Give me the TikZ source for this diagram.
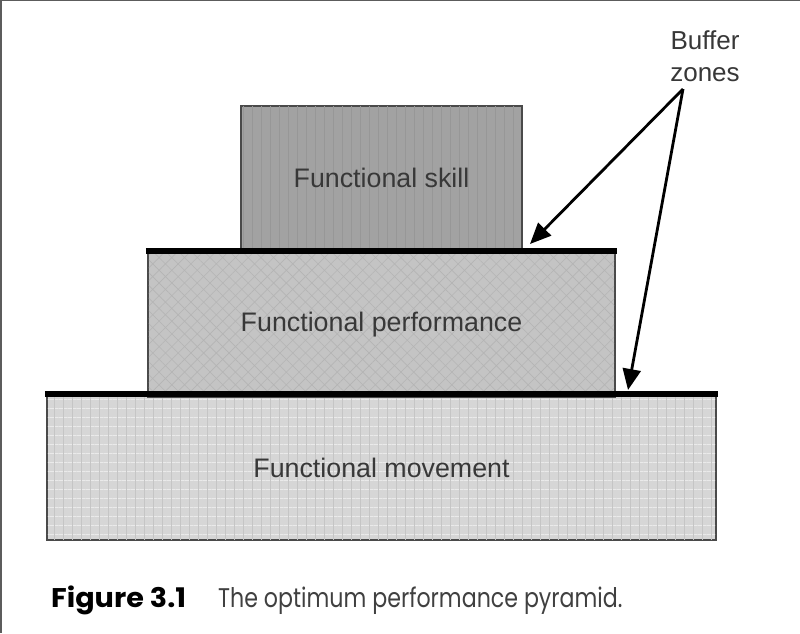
\documentclass[tikz,border=0pt]{standalone}
\usepackage{fontspec}
\setmainfont{Liberation Sans}
\newfontfamily\capfont{Poppins}
\usetikzlibrary{arrows.meta,patterns.meta}
\definecolor{txt}{HTML}{383838}
\definecolor{edge}{HTML}{4A4A4A}
\definecolor{fillA}{HTML}{A2A2A2}
\definecolor{fillB}{HTML}{C4C4C4}
\definecolor{fillC}{HTML}{D6D6D6}
\tikzset{
  layer/.style={draw=edge, line width=2.2pt, inner sep=0pt, anchor=center},
  lbl/.style={font=\fontsize{26.8}{32}\selectfont, text=txt},
  buffer/.style={line width=6pt, line cap=butt},
  pointer/.style={line width=2.8pt, -{Triangle[length=21pt,width=18pt]}},
}
\begin{document}
\begin{tikzpicture}[x=1pt,y=-1pt]
\useasboundingbox (0,0) rectangle (800,633);
\fill[white] (0,0) rectangle (800,633);
\draw[line width=2.5pt, color=edge!90] (1,0) -- (1,633);
\draw[line width=1.5pt, color=edge!90] (0,0.6) -- (800,0.6);
% layers
\node[layer, fill=fillC, minimum width=669pt, minimum height=145pt] (move) at (381.5,467.5) {};
\fill[pattern={Lines[distance=9pt,angle=0,line width=0.8pt]}, pattern color=white!50!fillC] ([shift={(2,-2)}]move.south west) rectangle ([shift={(-2,2)}]move.north east);
\fill[pattern={Lines[distance=9pt,angle=90,line width=0.8pt]}, pattern color=black!8!fillC] ([shift={(2,-2)}]move.south west) rectangle ([shift={(-2,2)}]move.north east);
\node[layer, fill=fillB, minimum width=467pt, minimum height=145pt] (perf) at (381.5,324.5) {};
\fill[pattern={Lines[distance=9pt,angle=45,line width=0.6pt]}, pattern color=black!8!fillB] ([shift={(2,-2)}]perf.south west) rectangle ([shift={(-2,2)}]perf.north east);
\fill[pattern={Lines[distance=9pt,angle=-45,line width=0.6pt]}, pattern color=black!8!fillB] ([shift={(2,-2)}]perf.south west) rectangle ([shift={(-2,2)}]perf.north east);
\node[layer, fill=fillA, minimum width=281pt, minimum height=144pt] (skill) at (381.5,178) {};
\fill[pattern={Lines[distance=9pt,angle=90,line width=0.8pt]}, pattern color=black!7!fillA] ([shift={(2,-2)}]skill.south west) rectangle ([shift={(-2,2)}]skill.north east);
\node[lbl] (tskill) at (skill.center) {Functional skill};
\node[lbl] (tperf) at (perf.center) {Functional performance};
\node[lbl] (tmove) at (move.center) {Functional movement};
% buffer zones (thick top edges)
\draw[buffer] ([xshift=-1pt]perf.north west) -- ([xshift=1pt]perf.north east);
\draw[buffer] ([xshift=-1pt]move.north west) -- ([xshift=1pt]move.north east);
% label and arrows
\node[font=\fontsize{26}{32}\selectfont, text=txt, align=center] (bz) at (705,56) {Buffer\\zones};
\coordinate (src) at (683,89);
\coordinate (tip1) at (530,244);
\coordinate (tip2) at (628,390);
\draw[pointer] (src) -- (tip1);
\draw[pointer] (src) -- (tip2);
% caption
\node[anchor=base west, inner sep=0pt, font=\capfont\fontsize{27}{32}\selectfont, text=black] (capA) at (51,607) {\scalebox{1.06}[1]{\bfseries Figure 3.1}};
\node[anchor=base west, inner sep=0pt, font=\capfont\fontsize{27}{32}\selectfont, text=black!75] (capB) at (218,607) {\scalebox{0.82}[1]{The optimum performance pyramid.}};
\end{tikzpicture}
\end{document}
